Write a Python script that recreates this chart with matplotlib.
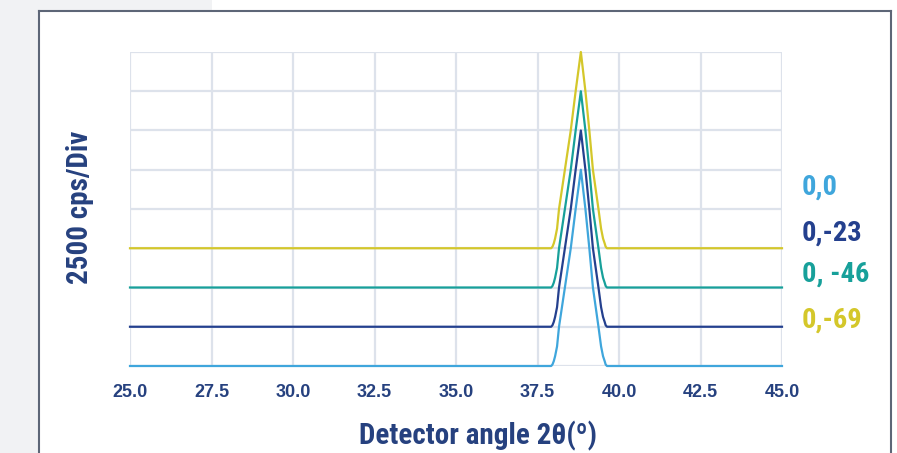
import numpy as np
import matplotlib
matplotlib.use("Agg")
import matplotlib.pyplot as plt
from matplotlib.patches import Rectangle
from matplotlib.lines import Line2D

# peak profile (2theta, fraction of peak height)
prof_x = [25.0, 37.92, 37.96, 38.00, 38.04, 38.10, 38.16, 38.34, 38.52, 38.67, 38.83,
          38.97, 39.09, 39.20, 39.37, 39.45, 39.51, 39.56, 39.59, 39.63, 45.0]
prof_h = [0.0, 0.0, 0.008, 0.025, 0.05, 0.1, 0.2, 0.4, 0.6, 0.8, 1.0,
          0.8, 0.6, 0.4, 0.2, 0.1, 0.05, 0.025, 0.008, 0.0, 0.0]

labels = ["0,0", "0,-23", "0, -46", "0,-69"]
offsets = [0, 2500, 5000, 7500]       # cps
peak_cps = [12500, 12500, 12500, 12500]
colors = ["#3fa6dc", "#24408e", "#17a09a", "#d4c72a"]

xticks = [25.0, 27.5, 30.0, 32.5, 35.0, 37.5, 40.0, 42.5, 45.0]
yticks = np.arange(0, 20001, 2500)

navy = "#26417f"
narrow = ["Roboto Condensed", "DejaVu Sans"]

fig = plt.figure(figsize=(8.97, 4.53), dpi=100)
W, H = 897, 453

# page background + frame
fig.patches.append(Rectangle((0, 0), 39 / W, 1, transform=fig.transFigure,
                             facecolor="#f1f2f4", edgecolor="none", zorder=0))
fig.patches.append(Rectangle((0, 1 - 11 / H), 212 / W, 11 / H, transform=fig.transFigure,
                             facecolor="#f1f2f4", edgecolor="none", zorder=0))
fc = "#5d6677"
fig.lines.append(Line2D([39 / W, 39 / W], [0, 1 - 11 / H], transform=fig.transFigure, color=fc, lw=1.5))
fig.lines.append(Line2D([39 / W, 891 / W], [1 - 11 / H, 1 - 11 / H], transform=fig.transFigure, color=fc, lw=1.5))
fig.lines.append(Line2D([891 / W, 891 / W], [0, 1 - 11 / H], transform=fig.transFigure, color=fc, lw=1.5))

ax = fig.add_axes([130 / W, 87 / H, 652 / W, 314 / H])
ax.set_xlim(25, 45)
ax.set_ylim(0, 20000)
ax.set_xticks(xticks)
ax.set_yticks(yticks)
ax.grid(True, color="#dde2eb", lw=1.6)
ax.set_axisbelow(True)
for s in ax.spines.values():
    s.set_visible(False)
ax.tick_params(length=0, pad=13, labelcolor=navy)
ax.set_xticklabels([f"{v:.1f}" for v in xticks], fontweight="bold",
                   family=["Liberation Sans", "DejaVu Sans"], fontsize=13)
ax.set_yticklabels([])

px = np.array(prof_x)
ph = np.array(prof_h)
for i in range(len(labels)):
    ax.plot(px, offsets[i] + ph * peak_cps[i], color=colors[i], lw=1.6,
            zorder=3 + (len(labels) - i), clip_on=False, solid_joinstyle="round")

fig.text(80 / W, 1 - 207 / H, "2500 cps/Div", rotation=90, ha="center", va="center",
         fontsize=21, fontweight="bold", color=navy, family=narrow)
fig.text(478 / W, 1 - 436 / H, "Detector angle 2\u03b8(\u00ba)", ha="center", va="center",
         fontsize=21, fontweight="bold", color=navy, family=narrow)

label_y = [187, 233, 274, 320]
for lab, c, yy in zip(labels, colors, label_y):
    fig.text(802 / W, 1 - yy / H, lab, ha="left", va="center", fontsize=20.5,
             fontweight="bold", color=c, family=narrow)

fig.savefig("out.png", dpi=100)
